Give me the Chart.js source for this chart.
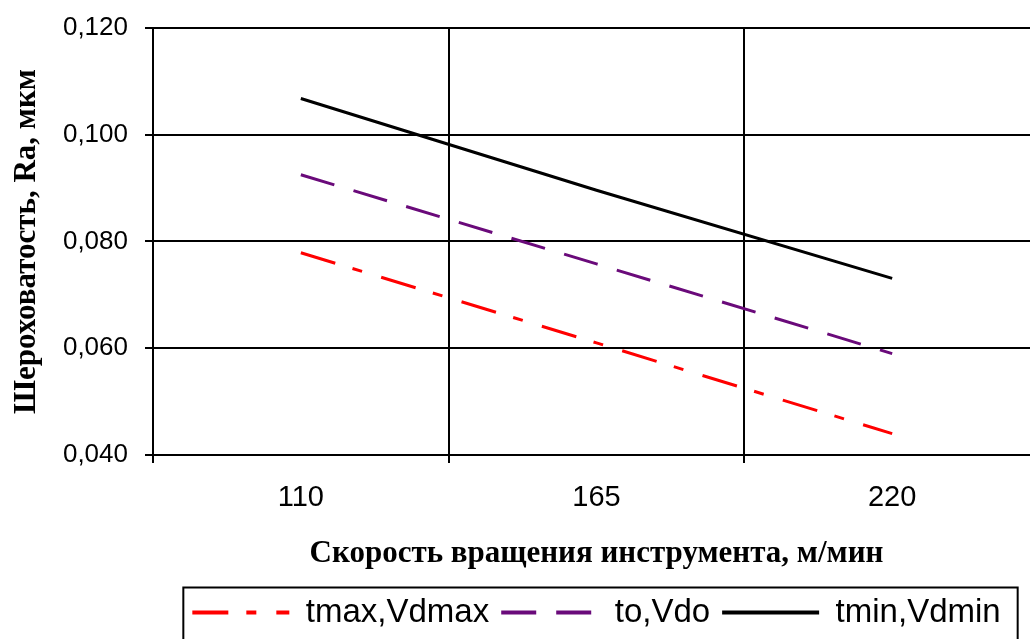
<!DOCTYPE html>
<html><head><meta charset="utf-8">
<script src="https://cdn.jsdelivr.net/npm/chart.js@4.4.1/dist/chart.umd.min.js"></script>
<style>
html,body{margin:0;padding:0;background:#fff;overflow:hidden;width:1030px;height:639px}
#wrap{position:absolute;left:0;top:0;width:1044px;height:639px}
</style></head>
<body><div id="wrap"><canvas id="c"></canvas></div>
<script>
const categories = ['110', '165', '220'];
const seriesNames = ['tmax,Vdmax', 'to,Vdo', 'tmin,Vdmin'];
const tmaxVdmax = [0.0779, 0.0610, 0.0440];
const toVdo = [0.0925, 0.0758, 0.0590];
const tminVdmin = [0.1068, 0.0896, 0.0731];
const yTicks = [0.040, 0.060, 0.080, 0.100, 0.120];
const xTitle = 'Скорость вращения инструмента, м/мин';
const yTitle = 'Шероховатость, Ra, мкм';

const legendFrame = {
  id: 'legendFrame',
  afterDraw(chart) {
    const lg = chart.legend;
    const hb = lg && lg.legendHitBoxes;
    if (!hb || !hb.length) return;
    const ctx = chart.ctx;
    const last = hb[hb.length - 1];
    const l = hb[0].left - 9;
    const r = last.left + last.width + 17;
    const t = hb[0].top + hb[0].height / 2 - 25;
    ctx.save();
    ctx.strokeStyle = '#000';
    ctx.lineWidth = 2;
    ctx.strokeRect(l, t, r - l, chart.height + 40 - t);
    ctx.restore();
  }
};

new Chart(document.getElementById('c'), {
  type: 'line',
  data: {
    labels: categories,
    datasets: [
      { label: seriesNames[0], data: tmaxVdmax, borderColor: '#ff0000', backgroundColor: '#ff0000',
        borderWidth: 3, borderDash: [36, 18, 10, 20], pointRadius: 0, tension: 0, fill: false },
      { label: seriesNames[1], data: toVdo, borderColor: '#6a0a7a', backgroundColor: '#6a0a7a',
        borderWidth: 3, borderDash: [35, 20], pointRadius: 0, tension: 0, fill: false },
      { label: seriesNames[2], data: tminVdmin, borderColor: '#000000', backgroundColor: '#000000',
        borderWidth: 3, pointRadius: 0, tension: 0, fill: false }
    ]
  },
  options: {
    responsive: true,
    maintainAspectRatio: false,
    animation: false,
    layout: { padding: { top: 28, right: 4, bottom: 0, left: 0 } },
    scales: {
      x: {
        offset: true,
        grid: { color: '#000', lineWidth: 2, offset: true, tickLength: 8, drawTicks: true },
        border: { color: '#000', width: 2 },
        ticks: { color: '#000', font: { family: 'Liberation Sans, Arial, sans-serif', size: 29 }, padding: 18, maxRotation: 0 },
        title: { display: true, text: xTitle, color: '#000',
          font: { family: 'Liberation Serif, Times New Roman, serif', size: 31, weight: 'bold' },
          padding: { top: 0, bottom: 11 } },
        afterFit(scale) { scale.height = 129; }
      },
      y: {
        min: 0.04, max: 0.12,
        afterBuildTicks(scale) { scale.ticks = yTicks.map(v => ({ value: v })); },
        grid: { color: '#000', lineWidth: 2, tickLength: 8, drawTicks: true },
        border: { color: '#000', width: 2 },
        ticks: { color: '#000', font: { family: 'Liberation Sans, Arial, sans-serif', size: 26 }, padding: 17,
          callback: v => Number(v).toFixed(3).replace('.', ',') },
        title: { display: true, text: yTitle, color: '#000',
          font: { family: 'Liberation Serif, Times New Roman, serif', size: 31, weight: 'bold' },
          padding: { top: 8, bottom: 0 } },
        afterFit(scale) { scale.width = 153; scale.paddingTop = 0; scale.paddingBottom = 0; }
      }
    },
    plugins: {
      legend: {
        position: 'bottom',
        fullSize: false,
        labels: {
          color: '#000',
          font: { family: 'Liberation Sans, Arial, sans-serif', size: 33 },
          usePointStyle: true,
          pointStyle: 'line',
          pointStyleWidth: 97,
          padding: 12,
          generateLabels(chart) {
            const items = Chart.defaults.plugins.legend.labels.generateLabels(chart);
            items.forEach((it, i) => {
              const ds = chart.data.datasets[i];
              it.lineWidth = 4;
              it.pointStyle = 'line';
              it.lineDash = ds.borderDash || [];
              it.lineDashOffset = 0;
              it.strokeStyle = ds.borderColor;
              it.fillStyle = ds.borderColor;
            });
            return items;
          }
        }
      },
      tooltip: { enabled: false }
    }
  },
  plugins: [legendFrame]
});
</script>
</body></html>
